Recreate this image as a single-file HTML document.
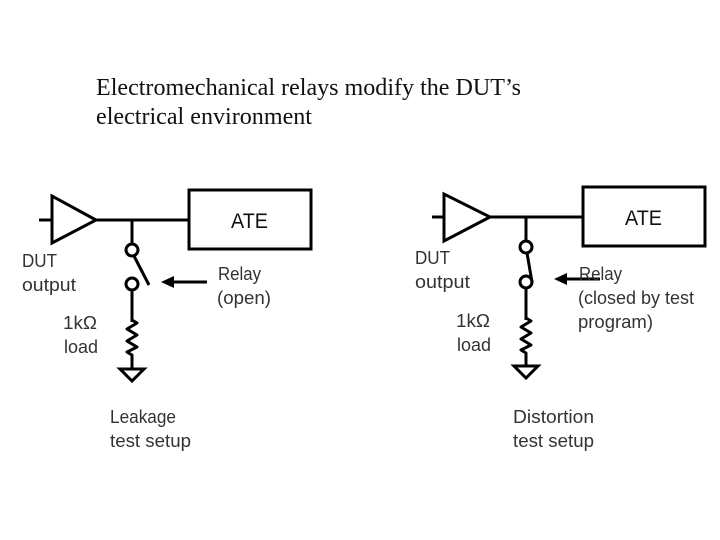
<!DOCTYPE html>
<html><head><meta charset="utf-8"><style>
html,body{margin:0;padding:0;background:#fff;width:720px;height:540px;overflow:hidden}
svg{display:block}
.t{font-family:"Liberation Serif",serif;font-size:24px;fill:#111}
.s{font-family:"Liberation Sans",sans-serif;font-size:18px;fill:#333}
.a{font-family:"Liberation Sans",sans-serif;font-size:21px;fill:#111}
.l{fill:none;stroke:#000;stroke-width:3}
.r{fill:none;stroke:#000;stroke-width:3;stroke-linejoin:round}
</style></head><body>
<svg width="720" height="540" viewBox="0 0 720 540">
<text class="t" x="96" y="95" textLength="425" lengthAdjust="spacingAndGlyphs">Electromechanical relays modify the DUT’s</text>
<text class="t" x="96" y="124" textLength="216" lengthAdjust="spacingAndGlyphs">electrical environment</text>

<!-- left -->
<rect class="l" x="189" y="190" width="122" height="59"/>
<polygon class="l" points="52,196 52,243 96,220"/>
<path class="l" d="M39 220H52M96 220H189M132 220V244M132 290V322"/>
<circle class="l" cx="132" cy="250" r="6"/>
<circle class="l" cx="132" cy="284" r="6"/>
<path class="l" d="M134 256L149 285"/>
<path class="l" d="M172 282H207"/>
<polygon points="161,282 174,276 174,288" fill="#000"/>
<path class="r" d="M132 320L137 323L127 329L137 335L127 341L137 347L127 352L132 355V369"/>
<polygon class="l" points="120,369 144,369 132,381"/>
<text class="a" x="231" y="228" textLength="37" lengthAdjust="spacingAndGlyphs">ATE</text>
<text class="s" x="22" y="267" textLength="35" lengthAdjust="spacingAndGlyphs">DUT</text>
<text class="s" x="22" y="291" textLength="54" lengthAdjust="spacingAndGlyphs">output</text>
<text class="s" x="218" y="280" textLength="43" lengthAdjust="spacingAndGlyphs">Relay</text>
<text class="s" x="217" y="304" textLength="54" lengthAdjust="spacingAndGlyphs">(open)</text>
<text class="s" x="63" y="329" textLength="34" lengthAdjust="spacingAndGlyphs">1kΩ</text>
<text class="s" x="64" y="353" textLength="34" lengthAdjust="spacingAndGlyphs">load</text>
<text class="s" x="110" y="423" textLength="66" lengthAdjust="spacingAndGlyphs">Leakage</text>
<text class="s" x="110" y="447" textLength="81" lengthAdjust="spacingAndGlyphs">test setup</text>

<!-- right -->
<rect class="l" x="583" y="187" width="122" height="59"/>
<polygon class="l" points="444,194 444,241 490,217"/>
<path class="l" d="M432 217H444M490 217H583M526 217V241M526 288V320"/>
<circle class="l" cx="526" cy="247" r="6"/>
<circle class="l" cx="526" cy="282" r="6"/>
<path class="l" d="M527 253L532 282"/>
<path class="l" d="M565 279H600"/>
<polygon points="554,279 567,273 567,285" fill="#000"/>
<path class="r" d="M526 318L531 321L521 327L531 333L521 339L531 345L521 350L526 353V366"/>
<polygon class="l" points="514,366 538,366 526,378"/>
<text class="a" x="625" y="225" textLength="37" lengthAdjust="spacingAndGlyphs">ATE</text>
<text class="s" x="415" y="264" textLength="35" lengthAdjust="spacingAndGlyphs">DUT</text>
<text class="s" x="415" y="288" textLength="55" lengthAdjust="spacingAndGlyphs">output</text>
<text class="s" x="579" y="280" textLength="43" lengthAdjust="spacingAndGlyphs">Relay</text>
<text class="s" x="578" y="304" textLength="116" lengthAdjust="spacingAndGlyphs">(closed by test</text>
<text class="s" x="578" y="328" textLength="75" lengthAdjust="spacingAndGlyphs">program)</text>
<text class="s" x="456" y="327" textLength="34" lengthAdjust="spacingAndGlyphs">1kΩ</text>
<text class="s" x="457" y="351" textLength="34" lengthAdjust="spacingAndGlyphs">load</text>
<text class="s" x="513" y="423" textLength="81" lengthAdjust="spacingAndGlyphs">Distortion</text>
<text class="s" x="513" y="447" textLength="81" lengthAdjust="spacingAndGlyphs">test setup</text>
</svg>
</body></html>
